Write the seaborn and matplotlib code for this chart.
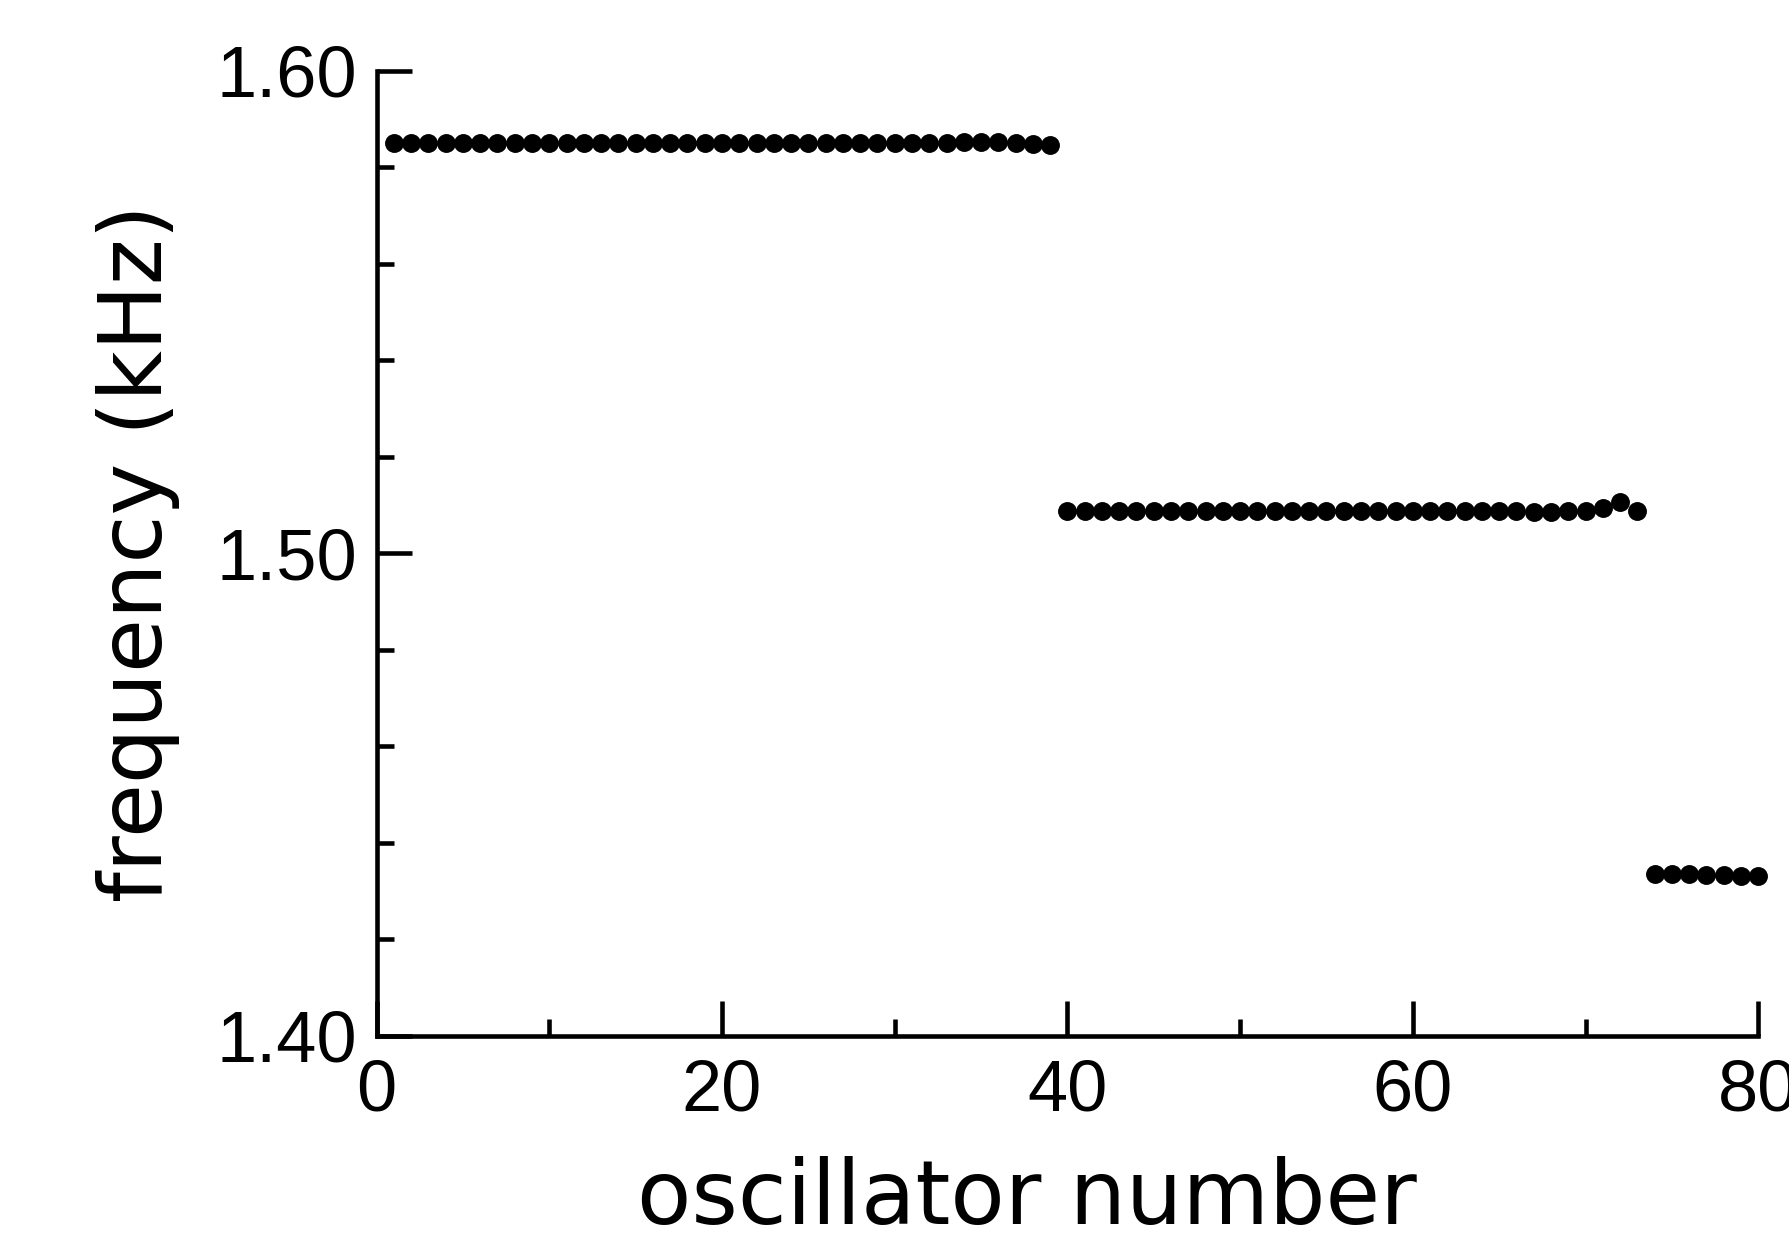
import matplotlib
matplotlib.use("Agg")
import matplotlib.pyplot as plt
import seaborn as sns
import numpy as np
import pandas as pd
from matplotlib.ticker import MultipleLocator

# oscillator index and measured frequency (kHz)
oscillator = list(range(1, 81))
freq_group1 = [1.5850] * 33 + [1.5852, 1.5853, 1.5852, 1.5850, 1.5848, 1.5846]
freq_group2 = [1.5088, 1.5088, 1.5087, 1.5087, 1.5087, 1.5087, 1.5087, 1.5087,
               1.5087, 1.5087, 1.5087, 1.5087, 1.5087, 1.5087, 1.5087, 1.5087,
               1.5087, 1.5087, 1.5087, 1.5087, 1.5087, 1.5087, 1.5087, 1.5087,
               1.5087, 1.5087, 1.5087, 1.5086, 1.5086, 1.5087, 1.5088, 1.5093,
               1.5106, 1.5087]
freq_group3 = [1.4336, 1.4336, 1.4335, 1.4334, 1.4333, 1.4332, 1.4331]
frequency = freq_group1 + freq_group2 + freq_group3

df = pd.DataFrame({"oscillator": oscillator, "frequency": frequency})

sns.set_theme(style="ticks")
plt.rcParams["font.family"] = ["DejaVu Sans"]
plt.rcParams["text.color"] = "black"
plt.rcParams["axes.labelcolor"] = "black"

fig = plt.figure(figsize=(17.89, 12.48), dpi=100)
ax = fig.add_axes([0.2105, 0.170, 0.7723, 0.7733])

sns.scatterplot(data=df, x="oscillator", y="frequency", color="black",
                s=185, linewidth=0, ax=ax, clip_on=False)

ax.set_xlim(0, 80)
ax.set_ylim(1.40, 1.60)
ax.set_xticks([0, 20, 40, 60, 80])
ax.xaxis.set_minor_locator(MultipleLocator(10))
ax.set_yticks([1.40, 1.50, 1.60])
ax.set_yticklabels(["1.40", "1.50", "1.60"])
ax.yaxis.set_minor_locator(MultipleLocator(0.02))

for s in ["top", "right"]:
    ax.spines[s].set_visible(False)
for s in ["left", "bottom"]:
    ax.spines[s].set_linewidth(3.3)
    ax.spines[s].set_color("black")

ax.tick_params(which="major", direction="in", length=25, width=3.3,
               colors="black", labelsize=52, pad=14)
ax.tick_params(which="minor", direction="in", length=12, width=3.3, colors="black")
for lab in ax.get_xticklabels() + ax.get_yticklabels():
    lab.set_family("Liberation Sans")
ax.tick_params(axis="x", pad=16)

ax.set_xlabel("oscillator number", fontsize=64, color="black")
ax.set_ylabel("frequency (kHz)", fontsize=63, color="black", labelpad=26)
ax.xaxis.set_label_coords(0.471, -0.125)

fig.savefig("out.png", dpi=100)
